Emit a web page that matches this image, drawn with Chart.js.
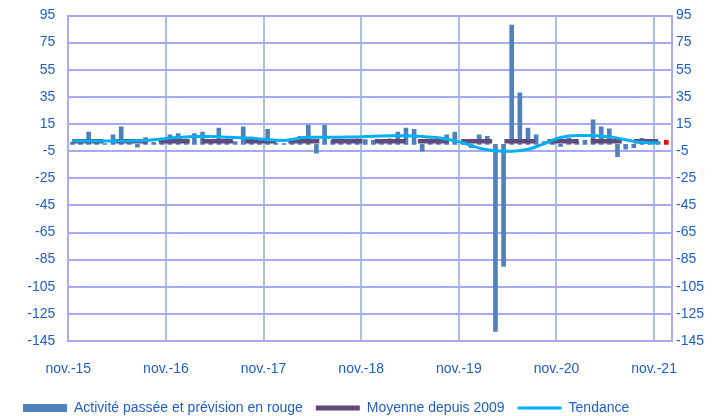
<!DOCTYPE html>
<html>
<head>
<meta charset="utf-8">
<script src="https://cdn.jsdelivr.net/npm/chart.js@4.4.1/dist/chart.umd.min.js"></script>
<style>
html,body{margin:0;padding:0;background:#ffffff;}
#wrap{width:723px;height:416px;}
</style>
</head>
<body>
<div id="wrap"><canvas id="c" width="723" height="416"></canvas></div>
<script>
// ---- data ----
const tickLabels = ['nov.-15','nov.-16','nov.-17','nov.-18','nov.-19','nov.-20','nov.-21'];
const tickMonths = [0, 12, 24, 36, 48, 60, 72];
const yTickValues = [95, 75, 55, 35, 15, -5, -25, -45, -65, -85, -105, -125, -145];

// monthly activity, nov.-15 .. déc.-21 (last value = forecast, in red)
const activity = [
  1.5, 1, 9, 1.5, 0.5, 7, 13, 1, -2, 5, 1.5, 2,
  7, 8, 2, 8, 9, 2, 12, 3, 2, 13, 1.5, 2,
  11, 1, 0.5, 2, 6, 14, -6.5, 14, 3, 3, 2.5, 4,
  3.5, 3, 3, 4, 9, 12, 11, -5, 2, 3, 7, 9,
  2, -2.5, 7, 6, -138, -90, 88, 38, 12, 7, 2, 1,
  -1.5, 4.5, 2, 3, 18, 13, 11.5, -9, -3.5, -2.5, 4.5, 3,
  2, 3
];
const forecastIndex = 73;

const average = [
  2.2, 2.2, 2.2, 2.2, 2.2, 2.2, 2.2, 2.2, 2.2, 2.2, 2.2, 2.2,
  2.2, 2.2, 2.2, 2.2, 2.2, 2.2, 2.2, 2.2, 2.2, 2.2, 2.2, 2.2,
  2.2, 2.2, 2.2, 2.2, 2.2, 2.2, 2.2, 2.2, 2.2, 2.2, 2.2, 2.2,
  2.2, 2.2, 2.2, 2.2, 2.2, 2.2, 2.2, 2.2, 2.2, 2.2, 2.2, 2.2,
  2.2, 2.2, 2.2, 2.2, 2.2, 2.2, 2.2, 2.2, 2.2, 2.2, 2.2, 2.2,
  2.2, 2.2, 2.2, 2.2, 2.2, 2.2, 2.2, 2.2, 2.2, 2.2, 2.2, 2.2,
  2.2
];

const trend = [
  2.4, 2.4, 2.4, 2.4, 2.4, 2.4, 2.4, 2.5, 2.6, 2.9,
  3.4, 4.0, 4.6, 5.1, 5.5, 5.8, 5.8, 5.7, 5.5, 5.3,
  5.0, 4.9, 4.6, 4.0, 3.4, 3.0, 2.9, 3.6, 4.6, 5.2,
  5.3, 5.3, 5.3, 5.3, 5.4, 5.5, 5.7, 5.9, 6.1, 6.3,
  6.3, 6.3, 6.2, 5.8, 5.3, 4.8, 3.8, 2.6, 1.2, -0.8,
  -2.8, -4.0, -4.8, -5.0, -5.0, -4.6, -3.6, -1.8, 0.6, 3.0,
  5.0, 6.2, 6.6, 6.6, 6.5, 6.1, 5.5, 4.6, 3.4, 2.2,
  1.5, 1.1, 0.9
];

const seriesNames = ['Activité passée et prévision en rouge', 'Moyenne depuis 2009', 'Tendance'];

// ---- styles ----
const BLUE = '#4F81BD', RED = '#FF0000', PURPLE = '#604A7B', CYAN = '#00B0F0';
const TEXT = '#1F5FC8';
const FONT = {family: '"Liberation Sans", Arial, sans-serif', size: 14};
const HGRID = '#A8A8F3', VGRID = '#A9C0E6', AXIS = '#A9A9F5';

const toXY = (arr) => arr.map((v, i) => ({x: i + 0.5, y: v}));
const noVPad = (s, w) => { s.width = w; s.paddingTop = 0; s.paddingBottom = 0; };

new Chart(document.getElementById('c'), {
  type: 'bar',
  data: {
    datasets: [
      {
        type: 'bar', label: seriesNames[0], data: toXY(activity),
        backgroundColor: activity.map((v, i) => i === forecastIndex ? RED : BLUE),
        barThickness: 4, order: 3
      },
      {
        type: 'line', label: seriesNames[1], data: toXY(average),
        borderColor: PURPLE, borderWidth: 4.5, borderDash: [31, 12.2], borderCapStyle: 'butt',
        pointRadius: 0, order: 2
      },
      {
        type: 'line', label: seriesNames[2], data: toXY(trend),
        borderColor: CYAN, borderWidth: 3, pointRadius: 0,
        cubicInterpolationMode: 'monotone', order: 1
      }
    ]
  },
  options: {
    responsive: false, animation: false, devicePixelRatio: 1,
    layout: {padding: {left: 10, right: 0, top: 15.5, bottom: -9}},
    plugins: {
      tooltip: {enabled: false},
      legend: {
        position: 'bottom', align: 'start',
        labels: {
          usePointStyle: true, pointStyleWidth: 44, boxWidth: 44, boxHeight: 8,
          padding: 13, color: TEXT, font: FONT,
          generateLabels: () => [
            {text: seriesNames[0], pointStyle: 'rect', fillStyle: BLUE, strokeStyle: BLUE, lineWidth: 0, hidden: false, datasetIndex: 0, fontColor: TEXT},
            {text: seriesNames[1], pointStyle: 'line', fillStyle: PURPLE, strokeStyle: PURPLE, lineWidth: 5, hidden: false, datasetIndex: 1, fontColor: TEXT},
            {text: seriesNames[2], pointStyle: 'line', fillStyle: CYAN, strokeStyle: CYAN, lineWidth: 3, hidden: false, datasetIndex: 2, fontColor: TEXT}
          ]
        }
      }
    },
    scales: {
      x: {
        type: 'linear', min: 0, max: 74.2, offset: false,
        afterBuildTicks: (s) => { s.ticks = tickMonths.map(v => ({value: v})); },
        ticks: {
          callback: (v) => tickLabels[tickMonths.indexOf(v)],
          color: TEXT, font: FONT, padding: 20, maxRotation: 0, autoSkip: false
        },
        grid: {color: VGRID, lineWidth: 2, drawTicks: false, offset: false},
        border: {display: false},
        afterFit: (s) => { s.height = 47; }
      },
      y: {
        position: 'left', min: -145, max: 95,
        afterBuildTicks: (s) => { s.ticks = yTickValues.map(v => ({value: v})); },
        ticks: {color: TEXT, font: FONT, padding: 13},
        grid: {color: HGRID, lineWidth: 2, drawTicks: false},
        border: {color: AXIS, width: 2},
        afterFit: (s) => noVPad(s, 58.3)
      },
      y2: {
        position: 'right', min: -145, max: 95,
        afterBuildTicks: (s) => { s.ticks = yTickValues.map(v => ({value: v})); },
        ticks: {color: TEXT, font: FONT, padding: 4},
        grid: {display: false, drawTicks: false},
        border: {color: AXIS, width: 2},
        afterFit: (s) => noVPad(s, 51)
      }
    }
  }
});
</script>
</body>
</html>
